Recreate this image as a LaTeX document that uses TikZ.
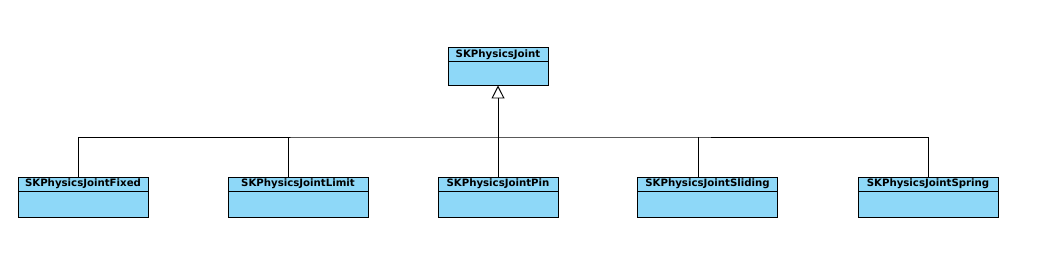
\documentclass[tikz,border=0pt]{standalone}
\usepackage{fontspec}
\setsansfont{DejaVu Sans}
\definecolor{classblue}{HTML}{8ED8F8}
\usetikzlibrary{arrows.meta,positioning}
\tikzset{
    classtitle/.style={
        draw=black,
        fill=classblue,
        line width=0.55pt,
        minimum height=0.28cm,
        inner sep=0pt,
        outer sep=0pt,
        font=\sffamily\bfseries\fontsize{5.8}{6}\selectfont
    },
    classbody/.style={
        draw=black,
        fill=classblue,
        line width=0.55pt,
        minimum height=0.52cm,
        inner sep=0pt,
        outer sep=0pt
    },
    classline/.style={
        draw=black,
        line width=0.55pt
    },
    classinherit/.style={
        -{Triangle[open,length=0.26cm,width=0.26cm]},
        draw=black,
        line width=0.55pt
    }
}

\begin{document}
\begin{tikzpicture}[x=0.02cm,y=-0.02cm]
        \useasboundingbox (0,0) rectangle (1040,256);

        \node[classtitle,minimum width=2.0cm] (jointtitle) at (498,54.5) {SKPhysicsJoint};
        \node[classbody,minimum width=2.0cm,minimum height=0.48cm,below=0pt of jointtitle] (jointbody) {};

        \node[classtitle,minimum width=2.6cm] (fixedtitle) at (83,184) {SKPhysicsJointFixed};
        \node[classbody,minimum width=2.6cm,below=0pt of fixedtitle] (fixedbody) {};
        \node[classtitle,minimum width=2.8cm] (limittitle) at (298,184) {SKPhysicsJointLimit};
        \node[classbody,minimum width=2.8cm,below=0pt of limittitle] (limitbody) {};
        \node[classtitle,minimum width=2.4cm] (pintitle) at (498,184) {SKPhysicsJointPin};
        \node[classbody,minimum width=2.4cm,below=0pt of pintitle] (pinbody) {};
        \node[classtitle,minimum width=2.8cm] (slidingtitle) at (707.5,184) {SKPhysicsJointSliding};
        \node[classbody,minimum width=2.8cm,below=0pt of slidingtitle] (slidingbody) {};
        \node[classtitle,minimum width=2.8cm] (springtitle) at (928,184) {SKPhysicsJointSpring};
        \node[classbody,minimum width=2.8cm,below=0pt of springtitle] (springbody) {};

        % shared bus above the subclasses
        \coordinate (bus) at (498,137);
        \draw[classline] ([xshift=-0.1cm]fixedtitle.north) |- (bus) -| (springtitle.north);
        \draw[classline] ([xshift=-0.2cm]limittitle.north) -- ([xshift=-0.2cm]limittitle.north |- bus);
        \draw[classline] ([xshift=-0.19cm]slidingtitle.north) -- ([xshift=-0.19cm]slidingtitle.north |- bus);
        \draw[classinherit] (pintitle.north) -- (jointbody.south);
    \end{tikzpicture}
\end{document}
